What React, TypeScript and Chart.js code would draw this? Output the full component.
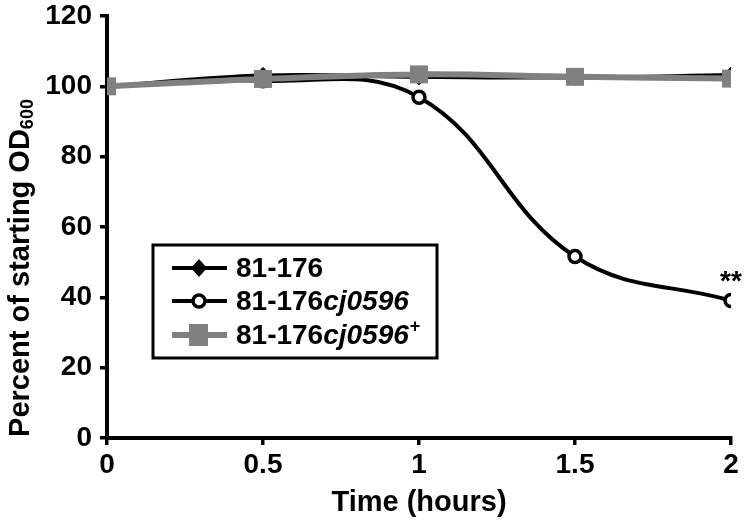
import React, { useEffect, useRef } from "react";
import { Chart, registerables } from "chart.js";

Chart.register(...registerables);

const times = [0, 0.5, 1, 1.5, 2];
const wildType = [100, 103.1, 102.7, 102.5, 103.2];
const mutant = [100, 101.6, 96.9, 51.6, 39.1];
const complemented = [100, 102.1, 103.4, 102.7, 102.2];
const seriesNames = ["81-176", "81-176", "81-176"];
const seriesItalic = ["", "cj0596", "cj0596"];
const seriesSup = ["", "", "+"];
const yTicks = [0, 20, 40, 60, 80, 100, 120];
const xTicks = [0, 0.5, 1, 1.5, 2];

const GRAY = "#808080";
const FONT = "'Liberation Sans', Arial, sans-serif";

const overlayPlugin = {
  id: "overlay",
  afterDraw(chart: any) {
    const ctx = chart.ctx as CanvasRenderingContext2D;
    ctx.save();
    // Y axis title with subscript
    ctx.translate(21, 268);
    ctx.rotate(-Math.PI / 2);
    ctx.fillStyle = "#000";
    ctx.textBaseline = "middle";
    const main = "Percent of starting OD";
    const sub = "600";
    ctx.font = `bold 29px ${FONT}`;
    const wMain = ctx.measureText(main).width;
    ctx.font = `bold 18px ${FONT}`;
    const wSub = ctx.measureText(sub).width;
    const total = wMain + wSub;
    ctx.font = `bold 29px ${FONT}`;
    ctx.textAlign = "left";
    ctx.fillText(main, -total / 2, 0);
    ctx.font = `bold 18px ${FONT}`;
    ctx.fillText(sub, -total / 2 + wMain, 7);
    ctx.restore();

    // significance mark
    const meta = chart.getDatasetMeta(1);
    const last = meta.data[meta.data.length - 1];
    ctx.save();
    ctx.fillStyle = "#000";
    ctx.font = `bold 28px ${FONT}`;
    ctx.textAlign = "center";
    ctx.textBaseline = "middle";
    ctx.fillText("**", last.x, last.y - 18);
    ctx.restore();

    // legend
    ctx.save();
    const bx = 153, by = 245, bw = 284, bh = 113;
    ctx.fillStyle = "#fff";
    ctx.fillRect(bx, by, bw, bh);
    ctx.strokeStyle = "#000";
    ctx.lineWidth = 3;
    ctx.strokeRect(bx, by, bw, bh);
    const rows = [268, 301, 335];
    const colors = ["#000", "#000", GRAY];
    const widths = [4, 4, 6];
    rows.forEach((ry, i) => {
      ctx.strokeStyle = colors[i];
      ctx.lineWidth = widths[i];
      ctx.beginPath();
      ctx.moveTo(172, ry);
      ctx.lineTo(227, ry);
      ctx.stroke();
      const cx = 199;
      if (i === 0) {
        ctx.fillStyle = "#000";
        ctx.beginPath();
        ctx.moveTo(cx, ry - 9);
        ctx.lineTo(cx + 8, ry);
        ctx.lineTo(cx, ry + 9);
        ctx.lineTo(cx - 8, ry);
        ctx.closePath();
        ctx.fill();
      } else if (i === 1) {
        ctx.fillStyle = "#fff";
        ctx.strokeStyle = "#000";
        ctx.lineWidth = 3.5;
        ctx.beginPath();
        ctx.arc(cx, ry, 6, 0, Math.PI * 2);
        ctx.fill();
        ctx.stroke();
      } else {
        ctx.fillStyle = GRAY;
        ctx.fillRect(cx - 10, ry - 11, 19, 22);
      }
      ctx.fillStyle = "#000";
      ctx.textBaseline = "middle";
      ctx.textAlign = "left";
      let tx = 236;
      ctx.font = `bold 28px ${FONT}`;
      ctx.fillText(seriesNames[i], tx, ry + 1);
      tx += ctx.measureText(seriesNames[i]).width;
      if (seriesItalic[i]) {
        ctx.font = `italic bold 28px ${FONT}`;
        ctx.fillText(seriesItalic[i], tx, ry + 1);
        tx += ctx.measureText(seriesItalic[i]).width;
      }
      if (seriesSup[i]) {
        ctx.font = `bold 18px ${FONT}`;
        ctx.fillText(seriesSup[i], tx + 1, ry - 8);
      }
    });
    ctx.restore();
  },
};

export default function App() {
  const ref = useRef<HTMLCanvasElement>(null);
  useEffect(() => {
    if (!ref.current) return;
    const chart = new Chart(ref.current, {
      type: "line",
      data: {
        datasets: [
          {
            label: "81-176",
            data: times.map((t, i) => ({ x: t, y: wildType[i] })),
            borderColor: "#000",
            backgroundColor: "#000",
            borderWidth: 4,
            pointStyle: "rectRot",
            pointRadius: 8,
            pointBorderWidth: 1,
            tension: 0.4,
            order: 2,
          },
          {
            label: "81-176cj0596",
            data: times.map((t, i) => ({ x: t, y: mutant[i] })),
            borderColor: "#000",
            backgroundColor: "#fff",
            pointBackgroundColor: "#fff",
            pointBorderColor: "#000",
            borderWidth: 4,
            pointStyle: "circle",
            pointRadius: 6,
            pointBorderWidth: 3.5,
            tension: 0.4,
            order: 1,
          },
          {
            label: "81-176cj0596+",
            data: times.map((t, i) => ({ x: t, y: complemented[i] })),
            borderColor: GRAY,
            backgroundColor: GRAY,
            borderWidth: 6,
            pointStyle: "rect",
            pointRadius: 12.7,
            pointBorderWidth: 0,
            tension: 0.4,
            order: 0,
          },
        ],
      },
      options: {
        animation: false,
        responsive: false,
        maintainAspectRatio: false,
        layout: { padding: { left: 0, right: 19, top: 16, bottom: 0 } },
        plugins: { legend: { display: false }, tooltip: { enabled: false } },
        scales: {
          x: {
            type: "linear",
            min: 0,
            max: 2,
            afterBuildTicks: (s: any) => {
              s.ticks = xTicks.map((v) => ({ value: v }));
            },
            afterFit: (s: any) => {
              s.height = 87;
            },
            ticks: {
              color: "#000",
              font: { family: FONT, size: 28, weight: "bold" },
              padding: 3,
              maxRotation: 0,
              callback: (v: any) => String(v),
            },
            grid: {
              drawOnChartArea: false,
              drawTicks: true,
              tickLength: 7,
              color: "#000",
              lineWidth: 3.5,
            },
            border: { color: "#000", width: 4 },
            title: {
              display: true,
              text: "Time (hours)",
              color: "#000",
              font: { family: FONT, size: 29, weight: "bold" },
              padding: { top: 0, bottom: 5 },
            },
          },
          y: {
            type: "linear",
            min: 0,
            max: 120,
            afterBuildTicks: (s: any) => {
              s.ticks = yTicks.map((v) => ({ value: v }));
            },
            afterFit: (s: any) => {
              s.width = 107;
            },
            ticks: {
              color: "#000",
              font: { family: FONT, size: 28, weight: "bold", lineHeight: 0.5 },
              padding: 8,
            },
            grid: {
              drawOnChartArea: false,
              drawTicks: true,
              tickLength: 7,
              color: "#000",
              lineWidth: 3.5,
            },
            border: { color: "#000", width: 4 },
          },
        },
      },
      plugins: [overlayPlugin],
    });
    return () => chart.destroy();
  }, []);
  return (
    <div style={{ position: "fixed", left: 0, top: 0, width: 750, height: 525, background: "#fff" }}>
      <canvas ref={ref} width={750} height={525} style={{ width: 750, height: 525 }} />
    </div>
  );
}
